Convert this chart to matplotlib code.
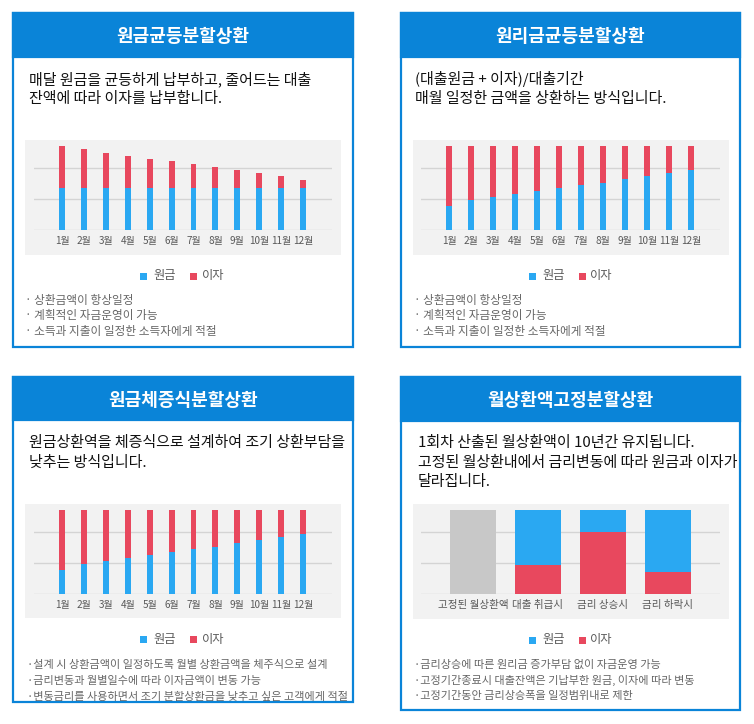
import matplotlib
matplotlib.use("Agg")
import matplotlib.pyplot as plt
from matplotlib.patches import Rectangle
import numpy as np

plt.rcParams['font.family'] = ['Noto Sans CJK KR', 'DejaVu Sans']

W, H = 754, 724

months = ['1월', '2월', '3월', '4월', '5월', '6월', '7월', '8월', '9월', '10월', '11월', '12월']

# 원금균등분할상환
p1_principal = [1.37, 1.37, 1.37, 1.37, 1.37, 1.37, 1.37, 1.37, 1.37, 1.37, 1.37, 1.37]
p1_interest = [1.35, 1.24, 1.11, 1.03, 0.92, 0.86, 0.76, 0.66, 0.57, 0.47, 0.37, 0.24]

# 원리금균등분할상환
p2_principal = [0.77, 0.97, 1.06, 1.17, 1.26, 1.37, 1.45, 1.53, 1.65, 1.75, 1.85, 1.95]
p2_interest = [1.95, 1.75, 1.66, 1.55, 1.46, 1.35, 1.27, 1.19, 1.07, 0.97, 0.87, 0.77]

# 원금체증식분할상환
p3_principal = [0.77, 0.97, 1.06, 1.17, 1.27, 1.35, 1.45, 1.53, 1.66, 1.74, 1.85, 1.94]
p3_interest = [1.94, 1.74, 1.65, 1.54, 1.44, 1.36, 1.26, 1.18, 1.05, 0.97, 0.86, 0.77]

# 월상환액고정분할상환
p4_categories = ['고정된 월상환액', '대출 취급시', '금리 상승시', '금리 하락시']
p4_fixed = [2.71, 0, 0, 0]
p4_interest = [0, 0.95, 2.0, 0.71]
p4_principal = [0, 1.76, 0.71, 2.0]

titles = ['원금균등분할상환', '원리금균등분할상환', '원금체증식분할상환', '월상환액고정분할상환']
descs = [
    ['매달 원금을 균등하게 납부하고, 줄어드는 대출', '잔액에 따라 이자를 납부합니다.'],
    ['(대출원금 + 이자)/대출기간', '매월 일정한 금액을 상환하는 방식입니다.'],
    ['원금상환역을 체증식으로 설계하여 조기 상환부담을', '낮추는 방식입니다.'],
    ['1회차 산출된 월상환액이 10년간 유지됩니다.', '고정된 월상환내에서 금리변동에 따라 원금과 이자가', '달라집니다.'],
]
notes = [
    ['상환금액이 항상일정', '계획적인 자금운영이 가능', '소득과 지출이 일정한 소득자에게 적절'],
    ['상환금액이 항상일정', '계획적인 자금운영이 가능', '소득과 지출이 일정한 소득자에게 적절'],
    ['설계 시 상환금액이 일정하도록 월별 상환금액을 체주식으로 설계',
     '금리변동과 월별일수에 따라 이자금액이 변동 가능',
     '변동금리를 사용하면서 조기 분할상환금을 낮추고 싶은 고객에게 적절'],
    ['금리상승에 따른 원리금 증가부담 없이 자금운영 가능',
     '고정기간종료시 대출잔액은 기납부한 원금, 이자에 따라 변동',
     '고정기간동안 금리상승폭을 일정범위내로 제한'],
]

BLUE_HEAD = '#0A84D8'
BAR_BLUE = '#2AA8F2'
BAR_RED = '#E8485E'
BAR_GRAY = '#C8C8C8'
CHART_BG = '#F2F2F2'
GRID = '#D4D4D4'

fig = plt.figure(figsize=(W / 100, H / 100), dpi=100)


def fx(x):
    return x / W


def fy(y):
    return 1 - y / H


def box(x0, y0, x1, y1, **kw):
    fig.patches.append(Rectangle((fx(x0), fy(y1)), (x1 - x0) / W, (y1 - y0) / H,
                                 transform=fig.transFigure, **kw))


def panel(x0, y0, x1, y1, head_bottom, title_y, title):
    box(x0, y0, x1, y1, facecolor='white', edgecolor=BLUE_HEAD, linewidth=1.6, zorder=-3)
    box(x0, y0, x1, head_bottom, facecolor=BLUE_HEAD, edgecolor=BLUE_HEAD, linewidth=1.6, zorder=-2)
    fig.text(fx((x0 + x1) / 2), fy(title_y), title, color='white', fontsize=13,
             fontweight='bold', ha='center', va='center')


def legend(bx, tx, rx, rtx, y):
    box(bx, y - 3.5, bx + 7, y + 3.5, facecolor=BAR_BLUE, linewidth=0)
    fig.text(fx(tx), fy(y), '원금', fontsize=8.8, color='#595959', va='center')
    box(rx, y - 3.5, rx + 7, y + 3.5, facecolor=BAR_RED, linewidth=0)
    fig.text(fx(rtx), fy(y), '이자', fontsize=8.8, color='#595959', va='center')


def chart_axes(x0, x1, base):
    ax = fig.add_axes([fx(x0), fy(base), (x1 - x0) / W, 93 / H])
    ax.set_zorder(2)
    ax.set_facecolor('none')
    ax.set_ylim(0, 3)
    ax.set_yticks([0, 1, 2])
    ax.yaxis.grid(True, color=GRID, linewidth=1)
    ax.set_axisbelow(True)
    ax.tick_params(axis='y', left=False, labelleft=False)
    ax.tick_params(axis='x', length=0, pad=4.5, labelcolor='#595959')
    for s in ax.spines.values():
        s.set_visible(False)
    return ax


# panel frames
panel(13, 13, 353, 347, 57, 37, titles[0])
panel(401, 13, 740, 347, 57, 37, titles[1])
panel(13, 377, 353, 702, 420, 401, titles[2])
panel(401, 377, 740, 710, 421, 401, titles[3])

# descriptions
for i, (x, y) in enumerate([(29, 79), (415, 79), (29, 443), (418, 443)]):
    for j, line in enumerate(descs[i]):
        fig.text(fx(x), fy(y + j * 19.5), line, fontsize=10.8, color='#111111', va='center')

# chart backgrounds
box(25, 140, 341, 255, facecolor=CHART_BG, linewidth=0, zorder=-1)
box(413, 140, 729, 255, facecolor=CHART_BG, linewidth=0, zorder=-1)
box(25, 504, 341, 618, facecolor=CHART_BG, linewidth=0, zorder=-1)
box(413, 504, 729, 619, facecolor=CHART_BG, linewidth=0, zorder=-1)

x = np.arange(len(months))

# chart 1
ax1 = chart_axes(34, 332, 230)
ax1.bar(x, p1_principal, width=0.27, color=BAR_BLUE)
ax1.bar(x, p1_interest, width=0.27, bottom=p1_principal, color=BAR_RED)
ax1.set_xlim(-1.28, 12.32)
ax1.set_xticks(x)
ax1.set_xticklabels(months, fontsize=7.2)

# chart 2
ax2 = chart_axes(421, 720, 230)
ax2.bar(x, p2_principal, width=0.27, color=BAR_BLUE)
ax2.bar(x, p2_interest, width=0.27, bottom=p2_principal, color=BAR_RED)
ax2.set_xlim(-1.28, 12.32)
ax2.set_xticks(x)
ax2.set_xticklabels(months, fontsize=7.2)

# chart 3
ax3 = chart_axes(34, 332, 594)
ax3.bar(x, p3_principal, width=0.27, color=BAR_BLUE)
ax3.bar(x, p3_interest, width=0.27, bottom=p3_principal, color=BAR_RED)
ax3.set_xlim(-1.28, 12.32)
ax3.set_xticks(x)
ax3.set_xticklabels(months, fontsize=7.2)

# chart 4
x4 = np.arange(len(p4_categories))
ax4 = chart_axes(421, 720, 594)
ax4.bar(x4, p4_fixed, width=0.71, color=BAR_GRAY)
ax4.bar(x4, p4_interest, width=0.71, color=BAR_RED)
ax4.bar(x4, p4_principal, width=0.71, bottom=p4_interest, color=BAR_BLUE)
ax4.set_xlim(-0.8, 3.8)
ax4.set_xticks(x4)
ax4.set_xticklabels(p4_categories, fontsize=7.6)

# legends
legend(140, 153, 190, 202, 276)
legend(529, 542, 579, 590, 276)
legend(140, 153, 190, 202, 639)
legend(529, 542, 579, 590, 640)

# notes
note_pos = [(25, '· ', 300.5, 15.5, 8.4), (414, '· ', 300.5, 15.5, 8.4),
            (27, '·', 665, 16, 8), (414, '·', 665, 15.5, 8)]
for i, (nx, dot, y0, dy, fs) in enumerate(note_pos):
    for j, line in enumerate(notes[i]):
        fig.text(fx(nx), fy(y0 + j * dy), dot + line, fontsize=fs, color='#666666', va='center')

plt.savefig('out.png', dpi=100)
